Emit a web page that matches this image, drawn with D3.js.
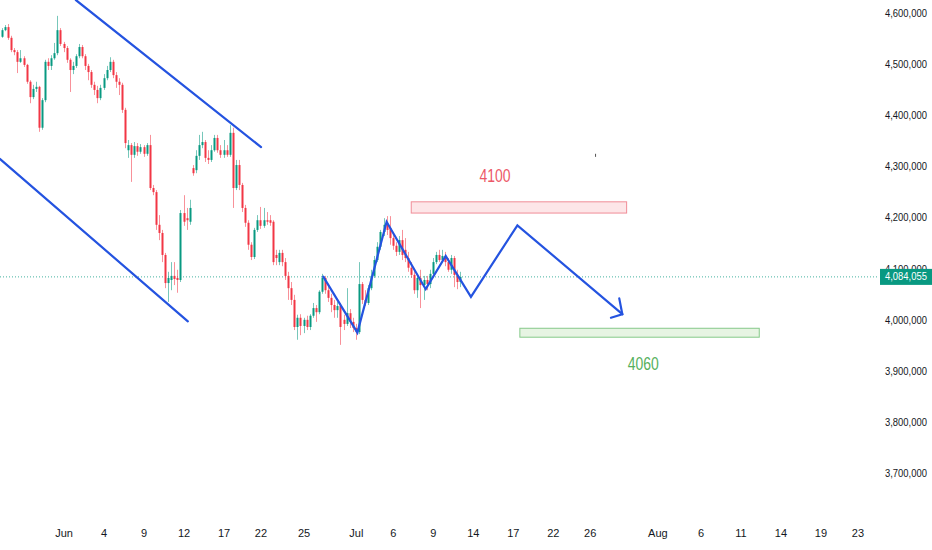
<!DOCTYPE html>
<html>
<head>
<meta charset="utf-8">
<script src="https://cdn.jsdelivr.net/npm/d3@7"></script>
<style>
html,body{margin:0;padding:0;background:#fff;}
svg{display:block;}
.ax text{font-family:"Liberation Sans",Arial,sans-serif;font-size:11px;fill:#131722;}
.ax.yax text{font-size:10.4px;}
</style>
</head>
<body>
<svg id="c" width="932" height="550"></svg>
<script>
// prices in thousands
const opens = [4554,4567,4573,4552,4528,4524,4505,4512,4499,4466,4436,4452,4456,4376,4430,4505,4497,4512,4522,4567,
4540,4532,4509,4489,4497,4516,4534,4516,4497,4485,4460,4450,4434,4454,4473,4489,4505,4479,4466,4460,
4411,4332,4342,4323,4340,4329,4338,4325,4342,4258,4250,4186,4170,4127,4072,4078,4086,4082,4078,4209,
4199,4192,4297,4293,4321,4342,4348,4317,4313,4332,4356,4332,4323,4332,4323,4366,4258,4303,4264,4219,
4190,4147,4123,4176,4195,4184,4195,4195,4192,4127,4113,4131,4113,4086,4062,4039,3986,4004,3988,4000,
3986,4008,4023,4015,4055,4082,4058,4043,4029,4019,4027,4000,3992,4013,3996,3984,3976,4070,4039,4033,
4062,4086,4117,4143,4172,4186,4180,4160,4145,4133,4156,4137,4121,4102,4088,4058,4082,4068,4078,4070,
4090,4113,4127,4117,4125,4113,4098,4121,4088,4074];
const highs = [4571,4577,4579,4556,4532,4528,4528,4516,4501,4469,4460,4466,4458,4434,4509,4512,4518,4542,4595,4571,
4544,4536,4512,4505,4520,4540,4538,4520,4501,4489,4466,4458,4460,4481,4497,4514,4509,4485,4473,4464,
4415,4352,4346,4348,4346,4344,4342,4346,4362,4264,4254,4205,4176,4131,4094,4113,4113,4098,4215,4244,
4219,4235,4303,4332,4362,4368,4352,4332,4342,4362,4362,4342,4352,4342,4381,4376,4313,4313,4268,4225,
4195,4152,4180,4205,4221,4219,4211,4205,4195,4137,4137,4137,4121,4094,4074,4049,4010,4011,4004,4008,
4011,4033,4029,4058,4090,4086,4066,4051,4039,4035,4033,4010,4062,4021,4004,3992,4113,4074,4058,4068,
4098,4125,4152,4176,4199,4203,4203,4168,4152,4164,4176,4160,4133,4113,4098,4090,4098,4086,4086,4098,
4121,4133,4137,4137,4133,4121,4127,4125,4098,4094];
const lows = [4552,4565,4548,4524,4518,4483,4503,4495,4462,4424,4432,4446,4368,4372,4426,4489,4489,4509,4518,4536,
4524,4503,4446,4481,4493,4512,4512,4489,4469,4454,4440,4424,4430,4450,4469,4485,4473,4454,4440,4405,
4336,4317,4270,4317,4321,4325,4319,4321,4254,4244,4176,4156,4113,4062,4035,4058,4068,4053,4074,4184,
4176,4186,4282,4287,4313,4336,4309,4305,4309,4329,4327,4317,4317,4319,4319,4219,4254,4254,4211,4182,
4137,4117,4119,4172,4178,4180,4186,4184,4107,4107,4107,4105,4078,4039,4029,3980,3961,3970,3974,3980,
3980,4004,3996,4011,4051,4051,4035,4015,4004,4004,3951,3980,3988,3984,3976,3961,3972,4031,4027,4029,
4058,4082,4113,4137,4164,4166,4147,4137,4125,4127,4117,4113,4094,4082,4051,4043,4023,4039,4058,4062,
4082,4109,4113,4113,4105,4094,4090,4064,4060,4064];
const closes = [4567,4573,4552,4528,4524,4505,4512,4499,4466,4436,4452,4456,4376,4430,4505,4497,4512,4522,4567,4540,
4532,4509,4489,4497,4516,4534,4516,4497,4485,4460,4450,4434,4454,4473,4489,4505,4479,4466,4460,4411,
4346,4342,4323,4340,4329,4338,4325,4342,4258,4250,4186,4170,4127,4072,4082,4086,4080,4078,4209,4192,
4195,4219,4287,4321,4342,4348,4317,4313,4332,4356,4332,4323,4332,4323,4366,4258,4303,4264,4219,4190,
4147,4123,4176,4195,4184,4195,4192,4190,4113,4121,4131,4113,4086,4062,4039,3986,4004,3988,4000,3986,
4008,4023,4015,4055,4082,4058,4043,4029,4019,4027,3986,3992,4013,3996,3984,3976,4070,4039,4033,4062,
4086,4117,4143,4172,4186,4176,4160,4145,4133,4156,4127,4121,4102,4088,4058,4082,4068,4078,4070,4090,
4113,4127,4117,4125,4113,4098,4121,4088,4074,4084.055];

const yTicks = [3700,3800,3900,4000,4100,4200,4300,4400,4500,4600];
const xTickBars = [20,33,46,59,72,84,98,115,127,140,153,166,179,191,213,227,240,253,266,278];
const xTickLabels = ["Jun","4","9","12","17","22","25","Jul","6","9","14","17","22","26","Aug","6","11","14","19","23"];

// drawings: [bar, price]
const upperChannel = [[24.0,4626],[84.2,4338]];
const lowerChannel = [[-0.7,4315],[60.4,3997]];
const zigzag = [[104.4,4084.5],[115.5,3975],[125.0,4192],[137.7,4060],[144.2,4125],[152.4,4045],[167.5,4185],[201.6,4011]];
const arrowHead = [[200.6,4042],[201.6,4011],[197.9,4004]];
const resistBox = {x0:133.0,x1:203.0,p0:4231,p1:4209};
const supportBox = {x0:168.3,x1:246.1,p0:3983.5,p1:3966};
const labels = [{t:"4100",bar:160.2,p:4282,c:"#ec5867"},{t:"4060",bar:208.4,p:3914,c:"#55b05c"}];
const tinyMark = [[192.9,4325],[192.9,4319]];
const lastPrice = closes[closes.length-1];

const W = 932, H = 550, plotRight = 878;
const x = d3.scaleLinear().domain([0,280]).range([2, 2+280*3.077]);
const y = d3.scaleLinear().domain([3700,4600]).range([473.1,13.3]);
const FONT = '"Liberation Sans",Arial,sans-serif';

const svg = d3.select("#c");
svg.append("rect").attr("width",W).attr("height",H).attr("fill","#fff");
svg.append("defs").append("clipPath").attr("id","clip").append("rect")
  .attr("x",0).attr("y",0).attr("width",plotRight).attr("height",515);

const g = svg.append("g").attr("clip-path","url(#clip)");

// last price line
g.append("line").attr("x1",0).attr("x2",plotRight).attr("y1",y(lastPrice)).attr("y2",y(lastPrice))
  .attr("stroke","#089981").attr("stroke-opacity",0.75).attr("stroke-width",1).attr("stroke-dasharray","1,2");

const data = closes.map((c,i)=>({i,o:opens[i],h:highs[i],l:lows[i],c}));
const up="#089981", dn="#f23645";
const cg = g.append("g");
cg.selectAll("line").data(data).join("line")
  .attr("x1",d=>Math.round(x(d.i))+0.5).attr("x2",d=>Math.round(x(d.i))+0.5)
  .attr("y1",d=>y(d.h)).attr("y2",d=>y(d.l))
  .attr("stroke",d=>d.c>=d.o?up:dn).attr("stroke-opacity",0.55).attr("stroke-width",1);
cg.selectAll("rect").data(data).join("rect")
  .attr("x",d=>Math.round(x(d.i))-0.5).attr("width",2)
  .attr("y",d=>y(Math.max(d.o,d.c))).attr("height",d=>Math.max(1,Math.abs(y(d.o)-y(d.c))))
  .attr("fill",d=>d.c>=d.o?up:dn);

// boxes
[[resistBox,"#fde6e8","#f08d97"],[supportBox,"#e7f4e3","#86c98a"]].forEach(([b,f,s])=>{
  g.append("rect").attr("x",x(b.x0)).attr("width",x(b.x1)-x(b.x0))
    .attr("y",y(b.p0)).attr("height",y(b.p1)-y(b.p0))
    .attr("fill",f).attr("stroke",s).attr("stroke-width",1);
});

const line = d3.line().x(d=>x(d[0])).y(d=>y(d[1]));
const blue="#2453e0";
[upperChannel,lowerChannel,zigzag,arrowHead].forEach(pts=>{
  g.append("path").attr("d",line(pts)).attr("fill","none").attr("stroke",blue)
    .attr("stroke-width",2.2).attr("stroke-linejoin","miter").attr("stroke-linecap","round");
});
g.append("path").attr("d",line(tinyMark)).attr("stroke","#555").attr("stroke-width",1);

labels.forEach(l=>{
  g.append("text").attr("x",x(l.bar)).attr("y",y(l.p)).attr("text-anchor","middle")
    .attr("dominant-baseline","central").attr("fill",l.c)
    .attr("textLength",31).attr("lengthAdjust","spacingAndGlyphs")
    .style("font-family",FONT).style("font-size","18px").text(l.t);
});

// axes
const yAx = svg.append("g").attr("class","ax yax").attr("transform","translate(883,0)")
  .call(d3.axisRight(y).tickValues(yTicks).tickSize(0).tickPadding(2).tickFormat(v=>d3.format(",")(v*1000)));
yAx.select(".domain").remove();
yAx.selectAll("text").attr("textLength",42).attr("lengthAdjust","spacingAndGlyphs");

const xAx = svg.append("g").attr("class","ax").attr("transform","translate(0,527)")
  .call(d3.axisBottom(x).tickValues(xTickBars).tickSize(0).tickPadding(2).tickFormat((v,i)=>xTickLabels[i]));
xAx.select(".domain").remove();

// last price tag
const tagY = y(lastPrice);
svg.append("rect").attr("x",880).attr("y",tagY-8).attr("width",52).attr("height",16).attr("fill","#089981");
svg.append("text").attr("x",885).attr("y",tagY).attr("dominant-baseline","central")
  .attr("fill","#fff").style("font-family",FONT).style("font-size","10.4px")
  .attr("textLength",42).attr("lengthAdjust","spacingAndGlyphs")
  .text(d3.format(",.0f")(lastPrice*1000));
</script>
</body>
</html>
